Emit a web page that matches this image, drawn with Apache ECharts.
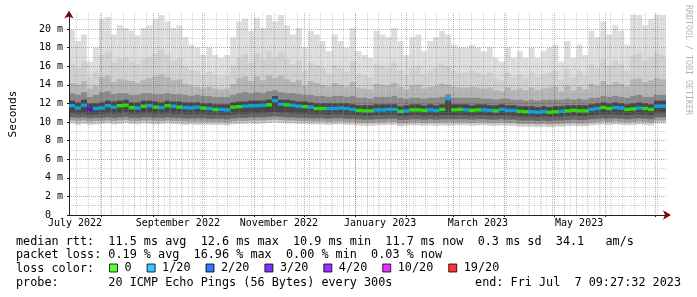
<!DOCTYPE html>
<html><head><meta charset="utf-8">
<script src="https://cdn.jsdelivr.net/npm/echarts@6/dist/echarts.min.js"></script>
<style>html,body{margin:0;padding:0;background:#fff}#c{width:697px;height:297px}</style>
</head><body><div id="c"></div>
<script>
// ---- time frame ----
const startTime = Date.UTC(2022, 6, 12, 9, 27, 32);
const endTime = Date.UTC(2023, 6, 7, 9, 27, 32);
const DAY = 86400000;
const spanDays = (endTime - startTime) / DAY; // 360
const sampleCount = 100;

// ---- x tick labels (month labels centred mid-month) ----
const xLabelTexts = ['July 2022', 'September 2022', 'November 2022', 'January 2023', 'March 2023', 'May 2023'];
const xLabelDates = [[2022, 6, 16], [2022, 8, 16], [2022, 10, 16], [2023, 0, 16], [2023, 2, 16], [2023, 4, 16]];
// ---- y tick labels ----
const yTickValues = [0, 2, 4, 6, 8, 10, 12, 14, 16, 18, 20];
const yTickLabels = ['0  ', '2 m', '4 m', '6 m', '8 m', '10 m', '12 m', '14 m', '16 m', '18 m', '20 m'];
const yMinorValues = [1, 3, 5, 7, 9, 11, 13, 15, 17, 19, 21];
const yMax = 21.72;

// ---- median rtt (ms) per sample ----
const medianRtt = [
 11.75,11.5,11.8,11.35,11.45,11.5,11.75,11.6,11.75,11.8,11.55,11.5,11.7,11.75,11.6,11.55,11.75,11.7,11.6,11.55,11.5,11.6,11.5,11.45,11.35,
 11.35,11.3,11.6,11.65,11.7,11.75,11.75,11.8,11.85,12.3,11.9,11.85,11.8,11.7,11.65,11.6,11.45,11.45,11.45,11.45,11.5,11.45,11.35,11.25,11.2,
 11.2,11.3,11.3,11.35,11.35,11.15,11.2,11.3,11.3,11.25,11.3,11.25,11.35,12.5,11.3,11.35,11.3,11.25,11.3,11.3,11.25,11.2,11.35,11.25,11.25,
 11.15,11.1,11.1,11.05,11.1,11.05,11.1,11.15,11.2,11.25,11.2,11.2,11.35,11.45,11.55,11.45,11.55,11.5,11.35,11.4,11.5,11.45,11.35,11.7,11.7
];
// ---- lost pings (of 20) per sample ----
const lossCount = [
 1,1,1,3,1,1,1,1,0,0,0,1,0,1,0,1,0,1,0,1,1,1,0,1,0,
 1,1,0,0,1,1,1,1,0,1,1,0,1,1,0,1,0,0,1,1,1,1,1,0,0,
 0,1,1,1,1,0,1,0,0,0,1,1,0,1,0,0,1,0,0,1,1,0,1,1,1,
 0,0,1,1,1,0,0,1,0,0,0,0,1,1,0,0,1,1,0,0,1,0,0,1,1
];
// ---- smoke envelope levels (ms) ----
const smokeMax = [
 19.9,18.7,19.4,16.5,18.0,21.1,21.3,19.4,20.4,20.1,19.8,19.3,20.1,20.4,21.1,21.5,20.8,20.1,20.4,19.1,18.3,18.0,17.2,18.0,17.2,
 16.9,17.2,19.1,20.8,21.1,19.8,21.2,20.1,21.5,20.8,21.5,20.4,19.4,20.1,18.0,19.8,19.4,18.7,17.6,19.4,18.7,18.0,20.1,17.6,17.2,
 16.9,19.8,19.4,19.1,20.1,18.7,17.2,19.1,19.4,17.6,18.7,19.1,19.8,19.4,18.3,18.0,18.0,18.3,18.0,17.6,18.0,16.9,16.5,18.0,16.9,
 17.6,16.9,18.0,16.9,17.6,18.0,18.3,16.5,18.7,16.9,18.3,17.2,19.8,19.1,20.8,19.4,20.4,19.8,18.3,21.5,21.5,20.4,21.1,21.5,21.5
];
const smokeP90 = [
 16.2,15.8,16.5,14.8,15.5,17.2,17.6,16.4,16.8,16.9,16.5,16.2,16.8,17.0,17.4,17.8,17.2,16.6,16.9,16.0,15.6,15.5,15.0,15.4,15.0,
 14.8,15.0,16.0,17.0,17.3,16.4,17.4,16.7,17.6,17.0,17.5,16.8,16.2,16.6,15.5,16.4,16.1,15.8,15.2,16.1,15.8,15.4,16.5,15.2,15.0,
 14.8,16.2,16.0,15.8,16.4,15.6,15.0,15.8,16.0,15.2,15.6,15.8,16.2,16.0,15.5,15.3,15.3,15.5,15.3,15.1,15.3,14.7,14.5,15.3,14.8,
 15.1,14.8,15.3,14.8,15.1,15.3,15.5,14.6,15.7,14.8,15.5,15.0,16.2,15.8,16.8,16.0,16.6,16.2,15.5,17.2,17.4,16.6,17.0,17.4,17.2
];
const smokeP75 = [
 14.2,14.0,14.4,13.6,13.9,14.8,15.0,14.3,14.6,14.5,14.4,14.2,14.5,14.7,14.9,15.1,14.8,14.5,14.6,14.1,13.9,13.8,13.6,13.8,13.6,
 13.5,13.6,14.1,14.7,14.9,14.4,14.9,14.5,15.0,14.7,15.0,14.6,14.3,14.5,13.9,14.4,14.2,14.0,13.8,14.2,14.0,13.8,14.3,13.7,13.6,
 13.5,14.1,14.0,13.9,14.2,13.8,13.5,13.9,14.0,13.6,13.8,13.9,14.1,14.0,13.8,13.7,13.7,13.8,13.7,13.6,13.7,13.4,13.3,13.7,13.4,
 13.6,13.4,13.7,13.4,13.6,13.7,13.8,13.3,13.9,13.4,13.8,13.5,14.1,13.9,14.4,14.0,14.3,14.1,13.8,14.6,14.7,14.3,14.5,14.7,14.6
];
const smokeP60 = [
 13.1,12.9,13.2,12.7,12.9,13.2,13.3,13.0,13.1,13.1,12.9,12.9,13.1,13.1,13.0,13.0,13.1,13.0,13.0,12.9,12.8,12.9,12.8,12.8,12.7,
 12.7,12.7,12.9,13.1,13.2,13.1,13.2,13.1,13.3,13.4,13.2,13.1,13.1,13.0,12.9,12.9,12.8,12.8,12.7,12.8,12.8,12.7,12.8,12.6,12.6,
 12.5,12.7,12.7,12.7,12.8,12.6,12.5,12.6,12.6,12.5,12.6,12.6,12.7,13.0,12.6,12.6,12.6,12.6,12.6,12.5,12.5,12.4,12.5,12.5,12.4,
 12.4,12.3,12.4,12.3,12.4,12.4,12.4,12.4,12.5,12.4,12.5,12.4,12.6,12.6,12.8,12.7,12.8,12.7,12.6,12.8,12.9,12.7,12.7,12.9,12.9
];
const smokeP55 = [
 12.3,12.1,12.4,12.0,12.0,12.1,12.3,12.2,12.3,12.4,12.1,12.1,12.3,12.3,12.2,12.1,12.3,12.2,12.2,12.1,12.1,12.1,12.0,12.0,11.9,
 11.9,11.9,12.1,12.2,12.2,12.3,12.3,12.3,12.4,12.8,12.4,12.4,12.3,12.2,12.2,12.1,12.0,12.0,12.0,12.0,12.0,12.0,11.9,11.8,11.8,
 11.8,11.9,11.9,11.9,11.9,11.7,11.8,11.9,11.9,11.8,11.9,11.8,11.9,12.6,11.9,11.9,11.9,11.8,11.9,11.9,11.8,11.8,11.9,11.8,11.8,
 11.7,11.7,11.7,11.6,11.7,11.6,11.7,11.7,11.8,11.8,11.8,11.8,11.9,12.0,12.1,12.0,12.1,12.0,11.9,12.0,12.1,12.0,11.9,12.3,12.3
];
const smokeP40 = [
 10.95,10.9,10.95,10.8,10.85,10.9,10.95,10.9,10.95,11.0,10.9,10.9,10.95,10.95,10.9,10.9,10.95,10.9,10.9,10.85,10.85,10.85,10.85,10.8,10.8,
 10.8,10.75,10.85,10.9,10.9,10.95,10.95,10.95,11.0,11.05,11.0,11.0,10.95,10.9,10.9,10.85,10.85,10.85,10.8,10.85,10.85,10.8,10.8,10.75,10.7,
 10.7,10.75,10.75,10.8,10.8,10.65,10.7,10.75,10.75,10.7,10.75,10.7,10.75,10.75,10.75,10.75,10.75,10.7,10.75,10.75,10.7,10.7,10.75,10.7,10.7,
 10.6,10.6,10.6,10.55,10.6,10.55,10.6,10.6,10.65,10.7,10.65,10.65,10.75,10.8,10.85,10.8,10.85,10.8,10.75,10.8,10.85,10.8,10.75,10.95,10.95
];
const smokeP25 = [
 10.5,10.45,10.5,10.4,10.45,10.45,10.5,10.45,10.5,10.55,10.45,10.45,10.5,10.5,10.45,10.45,10.5,10.45,10.45,10.4,10.4,10.4,10.4,10.35,10.35,
 10.35,10.3,10.4,10.45,10.45,10.5,10.5,10.5,10.55,10.6,10.55,10.5,10.5,10.45,10.45,10.4,10.4,10.4,10.35,10.4,10.4,10.35,10.35,10.3,10.25,
 10.25,10.3,10.3,10.35,10.35,10.2,10.25,10.3,10.3,10.25,10.3,10.25,10.3,10.3,10.3,10.3,10.3,10.25,10.3,10.3,10.25,10.25,10.3,10.25,10.25,
 10.15,10.15,10.15,10.1,10.15,10.1,10.15,10.15,10.2,10.25,10.2,10.2,10.3,10.35,10.4,10.35,10.4,10.35,10.3,10.35,10.4,10.35,10.3,10.5,10.5
];
const smokeP10 = [
 10.15,10.1,10.15,10.05,10.1,10.1,10.15,10.1,10.15,10.2,10.1,10.1,10.15,10.15,10.1,10.1,10.15,10.1,10.1,10.05,10.05,10.05,10.05,10.0,10.0,
 10.0,9.95,10.05,10.1,10.1,10.15,10.15,10.15,10.2,10.25,10.2,10.15,10.15,10.1,10.1,10.05,10.05,10.05,10.0,10.05,10.05,10.0,10.0,9.95,9.9,
 9.9,9.95,9.95,10.0,10.0,9.85,9.9,9.95,9.95,9.9,9.95,9.9,9.95,9.95,9.95,9.95,9.95,9.9,9.95,9.95,9.9,9.9,9.95,9.9,9.9,
 9.8,9.8,9.8,9.75,9.8,9.75,9.8,9.8,9.85,9.9,9.85,9.85,9.95,10.0,10.05,10.0,10.05,10.0,9.95,10.0,10.05,10.0,9.95,10.15,10.15
];
const smokeMin = [
 9.85,9.7,9.8,9.7,9.75,9.8,9.85,9.75,9.8,9.9,9.8,9.75,9.85,9.8,9.75,9.8,9.85,9.8,9.75,9.7,9.75,9.7,9.75,9.7,9.7,
 9.7,9.65,9.75,9.8,9.8,9.85,9.8,9.85,9.9,9.95,9.9,9.85,9.85,9.8,9.8,9.75,9.75,9.75,9.7,9.75,9.75,9.7,9.7,9.65,9.6,
 9.6,9.65,9.65,9.7,9.7,9.55,9.6,9.65,9.65,9.6,9.65,9.6,9.65,9.6,9.65,9.65,9.65,9.6,9.65,9.65,9.6,9.6,9.65,9.6,9.6,
 9.5,9.5,9.5,9.45,9.5,9.45,9.5,9.5,9.55,9.6,9.55,9.55,9.65,9.7,9.75,9.7,9.75,9.7,9.65,9.7,9.75,9.7,9.65,9.85,9.85
];

// ---- loss legend ----
const lossLevels = [0, 1, 2, 3, 4, 10, 19];
const lossNames = ['0', '1/20', '2/20', '3/20', '4/20', '10/20', '19/20'];
const lossColors = ['#26ff00', '#00b8ff', '#0059ff', '#5e00ff', '#7e00ff', '#dd00ff', '#ff0000'];

// ---- summary statistics ----
const rttStats = [11.5, 12.6, 10.9, 11.7, 0.3, 34.1]; // avg, max, min, now, sd, am/s
const lossStats = [0.19, 16.96, 0.00, 0.03];         // avg, max, min, now (%)
const probeText = '20 ICMP Echo Pings (56 Bytes) every 300s';
const endText = 'Fri Jul  7 09:27:32 2023';

// ---- derived helpers ----
const dayOf = (y, m, d) => (Date.UTC(y, m, d) - startTime) / DAY;
const sampleDays = medianRtt.map((_, i) => ((i + 0.5) * spanDays / sampleCount).toFixed(2));
const xLabelDays = xLabelDates.map(d => dayOf(d[0], d[1], d[2]));
const monthDays = [];
for (let k = 1; k <= 12; k++) monthDays.push(dayOf(2022, 6 + k, 1));
const weekDays = [];
for (let d = dayOf(2022, 6, 17); d < spanDays; d += 7) weekDays.push(d);

const MONO = 'DejaVu Sans Mono';
const majorGrid = 'rgba(130,30,30,0.38)';
const minorGrid = 'rgba(140,140,140,0.42)';

const smokeLayers = [
  [smokeMax, '#dddddd'], [smokeP90, '#d0d0d0'], [smokeP75, '#b5b5b5'], [smokeP60, '#888888'],
  [smokeP55, '#474747'], [smokeP40, '#676767'], [smokeP25, '#9c9c9c'], [smokeP10, '#cdcdcd'], [smokeMin, '#ffffff']
];

const series = smokeLayers.map(([d, c]) => ({
  type: 'bar', data: d, xAxisIndex: 0, yAxisIndex: 0, silent: true,
  barGap: '-100%', barCategoryGap: '0%', itemStyle: { color: c }, z: 1
}));
lossLevels.forEach((lv, k) => {
  series.push({
    type: 'scatter', name: lossNames[k], xAxisIndex: 0, yAxisIndex: 0, symbol: 'rect', symbolSize: [6, 3.4],
    data: medianRtt.map((v, i) => lossCount[i] === lv ? v : '-'),
    itemStyle: { color: lossColors[k] }, z: 6, silent: true
  });
});

const line1 = 'median rtt:  ' + rttStats[0].toFixed(1) + ' ms avg  ' + rttStats[1].toFixed(1) + ' ms max  ' +
  rttStats[2].toFixed(1) + ' ms min  ' + rttStats[3].toFixed(1) + ' ms now  ' + rttStats[4].toFixed(1) + ' ms sd  ' +
  rttStats[5].toFixed(1) + '   am/s';
const line2 = 'packet loss: ' + lossStats[0].toFixed(2) + ' % avg  ' + lossStats[1].toFixed(2) + ' % max  ' +
  lossStats[2].toFixed(2) + ' % min  ' + lossStats[3].toFixed(2) + ' % now';

const chart = echarts.init(document.getElementById('c'), null, { renderer: 'canvas' });
chart.setOption({
  animation: false,
  backgroundColor: '#ffffff',
  grid: { left: 66, top: 13, width: 600, height: 202, containLabel: false },
  legend: {
    data: lossNames, left: 109, top: 262, padding: 0, itemGap: 15, itemWidth: 8, itemHeight: 8,
    icon: 'rect', selectedMode: false,
    itemStyle: { borderColor: '#000', borderWidth: 1 },
    textStyle: { fontFamily: MONO, fontSize: 11.8, color: '#000', padding: [0, 0, 0, 2] }
  },
  xAxis: [
    { type: 'category', data: sampleDays, show: false, boundaryGap: true, position: 'bottom' },
    { type: 'value', min: 0, max: spanDays, position: 'bottom', z: 4,
      axisLine: { show: true, onZero: false, lineStyle: { color: '#202020', width: 1 } },
      axisTick: { show: true, customValues: monthDays, length: 2, inside: false, lineStyle: { color: '#202020' } },
      axisLabel: { customValues: xLabelDays, fontFamily: MONO, fontSize: 10, color: '#000', margin: 3,
        formatter: v => { const i = xLabelDays.findIndex(d => Math.abs(d - v) < 1e-6); return i >= 0 ? xLabelTexts[i] : ''; } },
      splitLine: { show: true, lineStyle: { color: majorGrid, type: [1, 1], width: 1 } } },
    { type: 'value', min: 0, max: spanDays, position: 'bottom', z: 3,
      axisLine: { show: true, onZero: false, symbol: ['none', 'arrow'], symbolSize: [7, 8], symbolOffset: [0, 5],
        lineStyle: { color: '#8b0000', width: 1 } },
      axisTick: { show: false, customValues: weekDays }, axisLabel: { show: false },
      splitLine: { show: true, lineStyle: { color: minorGrid, type: [1, 1], width: 1 } } }
  ],
  yAxis: [
    { type: 'value', min: 0, max: yMax, position: 'left', z: 4,
      name: 'Seconds', nameLocation: 'middle', nameRotate: 90, nameGap: 50,
      nameTextStyle: { fontFamily: MONO, fontSize: 11.2, color: '#000' },
      axisLine: { show: true, onZero: false, lineStyle: { color: '#202020', width: 1 } },
      axisTick: { show: true, customValues: yTickValues, length: 2, lineStyle: { color: '#202020' } },
      axisLabel: { customValues: yTickValues, fontFamily: MONO, fontSize: 10, color: '#000', margin: 6,
        formatter: v => { const i = yTickValues.indexOf(v); return i >= 0 ? yTickLabels[i] : ''; } },
      splitLine: { show: true, lineStyle: { color: majorGrid, type: [1, 1], width: 1 } } },
    { type: 'value', min: 0, max: yMax, position: 'left', z: 3,
      axisLine: { show: true, onZero: false, symbol: ['none', 'arrow'], symbolSize: [7, 8], symbolOffset: [0, 2.5],
        lineStyle: { color: '#8b0000', width: 1 } },
      axisTick: { show: false, customValues: yMinorValues }, axisLabel: { show: false },
      splitLine: { show: true, lineStyle: { color: minorGrid, type: [1, 1], width: 1 } } }
  ],
  graphic: [
    { type: 'text', x: 16, y: 241.5, style: { text: line1, font: '11.8px "DejaVu Sans Mono"', fill: '#000', textVerticalAlign: 'middle' } },
    { type: 'text', x: 16, y: 255.3, style: { text: line2, font: '11.8px "DejaVu Sans Mono"', fill: '#000', textVerticalAlign: 'middle' } },
    { type: 'text', x: 16, y: 269.1, style: { text: 'loss color:', font: '11.8px "DejaVu Sans Mono"', fill: '#000', textVerticalAlign: 'middle' } },
    { type: 'text', x: 16, y: 282.8, style: { text: 'probe:       ' + probeText, font: '11.8px "DejaVu Sans Mono"', fill: '#000', textVerticalAlign: 'middle' } },
    { type: 'text', x: 681, y: 282.8, style: { text: 'end: ' + endText, font: '11.8px "DejaVu Sans Mono"', fill: '#000', textAlign: 'right', textVerticalAlign: 'middle' } },
    { type: 'text', x: 688.5, y: 5, rotation: -Math.PI / 2, style: { text: 'RRDTOOL / TOBI OETIKER', font: '8.3px "DejaVu Sans Mono"', fill: '#b4b4b4', textAlign: 'left', textVerticalAlign: 'middle' } }
  ],
  series: series
});
</script></body></html>
